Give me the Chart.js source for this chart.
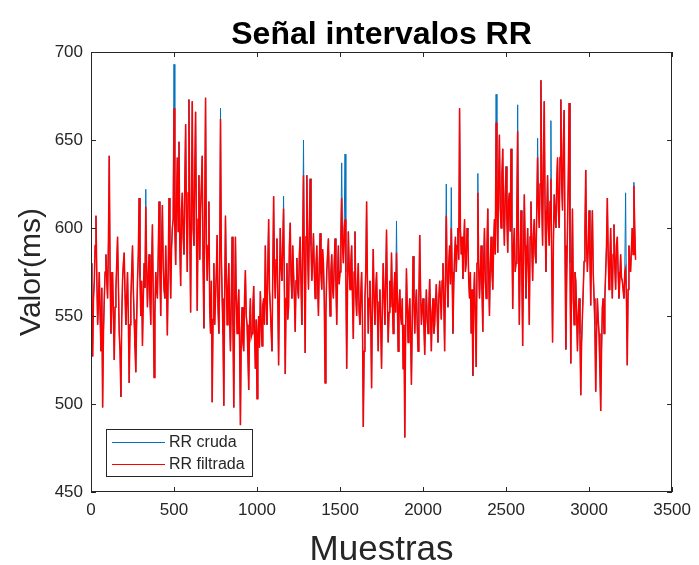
<!DOCTYPE html>
<html><head><meta charset="utf-8">
<script src="https://cdn.jsdelivr.net/npm/chart.js@4"></script>
<style>html,body{margin:0;padding:0;background:#fff}#c{display:block}</style>
</head><body>
<canvas id="c" width="699" height="565"></canvas>
<script>
// Muestras entre valores consecutivos
const PASO = 5;
// RR filtrada (ms), una lectura cada PASO muestras, desde la muestra 0 (20 lecturas = 100 muestras por fila)
const rrFiltrada = [
580,548,527,560,570,590,607,572,545,558,575,550,530,566,498,540,560,575,585,570,
560,592,641,575,540,558,575,550,525,555,565,580,595,568,540,530,504,548,570,580,
586,562,545,560,575,548,512,545,560,575,590,565,548,532,518,548,570,585,617,572,
550,570,533,560,580,566,612,580,555,572,585,560,545,578,602,560,515,552,575,565,
560,585,615,575,550,590,613,578,565,560,590,568,539,575,617,582,560,588,600,605,
668,600,579,615,640,598,649,590,567,610,620,595,585,625,659,605,575,620,673,600,
552,615,672,600,590,632,666,598,553,605,630,582,610,625,641,580,543,610,674,590,
570,590,615,555,540,570,501,548,580,545,560,575,596,555,540,575,662,585,560,540,
499,560,607,572,545,565,580,548,530,560,595,545,498,552,595,560,540,555,565,535,
488,540,555,535,530,560,576,550,545,528,508,545,560,538,540,555,567,540,520,548,
503,540,550,532,564,548,533,556,560,545,590,560,545,578,605,565,555,542,530,575,
618,575,560,582,594,560,522,565,600,578,570,590,611,565,517,560,580,548,555,590,
603,572,560,590,575,560,541,570,583,565,560,585,595,568,545,590,630,575,529,595,
630,585,565,600,628,590,570,582,597,575,560,578,590,568,550,580,597,574,565,588,
580,560,512,552,575,585,594,568,550,575,585,566,560,580,594,570,545,572,590,568,
575,595,617,590,580,600,605,575,520,565,598,578,565,580,590,560,537,575,598,562,
550,568,580,552,545,562,575,548,487,530,560,575,615,568,540,560,570,548,509,560,
588,560,545,565,575,552,530,558,565,545,520,556,580,562,545,570,599,560,535,552,
570,555,586,560,540,565,575,552,586,560,530,556,565,550,545,560,520,545,481,540,
577,555,535,552,560,540,511,548,584,560,540,556,565,545,530,560,596,565,545,555,
560,545,528,550,565,548,540,556,571,550,530,552,560,540,545,558,568,552,535,560,
570,560,548,570,580,558,530,575,607,570,555,580,590,568,600,575,540,568,585,595,
575,590,600,582,668,600,585,595,571,590,605,575,580,600,595,570,560,575,540,565,
516,560,575,548,521,580,620,578,560,575,590,565,541,580,600,570,560,590,611,575,
550,580,595,575,565,590,605,585,660,610,586,625,653,612,600,630,645,608,590,620,
635,605,586,615,620,598,645,600,554,590,600,575,580,610,655,590,545,585,610,575,
533,585,619,590,560,582,600,575,545,595,615,590,570,596,605,585,580,610,640,612,
600,625,684,615,590,640,672,610,575,605,630,600,590,615,628,580,535,590,619,608,
600,625,640,610,600,640,673,625,610,648,667,590,531,570,600,630,671,580,523,575,
611,560,545,575,570,552,530,550,560,540,505,535,550,565,581,598,633,590,575,590,
610,585,556,590,610,575,560,545,507,540,560,548,540,520,496,530,555,560,540,560,
575,590,617,585,565,580,600,575,560,585,602,578,565,590,595,575,560,570,585,572,
570,565,560,575,577,560,522,565,590,580,575,588,600,585,624,600,582
];
// RR cruda: igual a la filtrada salvo en estos picos [índice, valor ms]
const picosCruda = [
[66,622],[100,693],[156,668],[232,618],[256,650],[302,637],[306,642],[368,604],
[428,625],[434,623],[466,631],[488,676],[514,670],[538,651],[554,661],[644,620],[654,626]
];
const xTicks = [0,500,1000,1500,2000,2500,3000,3500];
const yTicks = [450,500,550,600,650,700];
const titulo = 'Señal intervalos RR';
const etiquetaX = 'Muestras';
const etiquetaY = 'Valor(ms)';
const nombres = ['RR cruda','RR filtrada'];
const colorCruda = '#0072BD';
const colorFiltrada = '#FF0000';

const rrCruda = rrFiltrada.slice();
picosCruda.forEach(([i,v]) => { rrCruda[i] = v; });
const ptsF = rrFiltrada.map((v,i) => ({x:i*PASO, y:v}));
const ptsC = rrCruda.map((v,i) => ({x:i*PASO, y:v}));

const AX = '#262626';
const FONT = 'Arial, "Liberation Sans", sans-serif';

const marco = {
  id:'marco',
  afterDatasetsDraw(chart){
    const {ctx, chartArea:a, scales:{x,y}} = chart;
    ctx.save();
    ctx.strokeStyle = AX; ctx.lineWidth = 1;
    ctx.strokeRect(Math.round(a.left)+0.5, Math.round(a.top)+0.5, Math.round(a.right-a.left)-1, Math.round(a.bottom-a.top)-1);
    const T = 5;
    ctx.beginPath();
    xTicks.forEach(v => { const px = Math.round(x.getPixelForValue(v))+0.5;
      ctx.moveTo(px, a.bottom); ctx.lineTo(px, a.bottom-T);
      ctx.moveTo(px, a.top); ctx.lineTo(px, a.top+T); });
    yTicks.forEach(v => { const py = Math.round(y.getPixelForValue(v))+0.5;
      ctx.moveTo(a.left, py); ctx.lineTo(a.left+T, py);
      ctx.moveTo(a.right, py); ctx.lineTo(a.right-T, py); });
    ctx.stroke();
    // leyenda
    const lx = 106, ly = 429, lw = 146, lh = 47;
    ctx.fillStyle = '#fff'; ctx.fillRect(lx, ly, lw, lh);
    ctx.strokeStyle = AX; ctx.strokeRect(lx+0.5, ly+0.5, lw, lh);
    const filas = [[colorCruda, nombres[0], 442],[colorFiltrada, nombres[1], 464]];
    ctx.font = '16px ' + FONT; ctx.textBaseline = 'middle'; ctx.textAlign = 'left';
    filas.forEach(([c,t,yy]) => {
      ctx.strokeStyle = c; ctx.lineWidth = 1;
      ctx.beginPath(); ctx.moveTo(112, yy+0.5); ctx.lineTo(165, yy+0.5); ctx.stroke();
      ctx.fillStyle = AX; ctx.fillText(t, 169, yy+1);
    });
    ctx.restore();
  },
  afterDraw(chart){
    const {ctx, chartArea:a} = chart;
    const cx = (a.left + a.right)/2;
    ctx.save();
    ctx.fillStyle = '#000';
    ctx.textAlign = 'center'; ctx.textBaseline = 'alphabetic';
    ctx.font = 'bold 32px ' + FONT;
    ctx.fillText(titulo, cx, 44);
    ctx.fillStyle = AX;
    ctx.font = '35px ' + FONT;
    ctx.fillText(etiquetaX, cx, 560);
    ctx.translate(40, (a.top + a.bottom)/2);
    ctx.rotate(-Math.PI/2);
    ctx.font = '30px ' + FONT;
    ctx.fillText(etiquetaY, 0, 0);
    ctx.restore();
  }
};

new Chart(document.getElementById('c'), {
  type:'line',
  data:{ datasets:[
    { label:nombres[1], data:ptsF, borderColor:colorFiltrada, borderWidth:1.5, pointRadius:0, tension:0, order:0 },
    { label:nombres[0], data:ptsC, borderColor:colorCruda, borderWidth:1, pointRadius:0, tension:0, order:1 }
  ]},
  options:{
    responsive:false, animation:false, devicePixelRatio:1,
    layout:{ padding:{ top:52, right:21, left:0, bottom:0 } },
    plugins:{ legend:{display:false}, tooltip:{enabled:false}, title:{display:false} },
    scales:{
      x:{ type:'linear', min:0, max:3500,
          afterBuildTicks: s => { s.ticks = xTicks.map(v => ({value:v})); },
          afterFit: s => { s.height = 73; },
          grid:{ display:false, drawTicks:false }, border:{ display:false },
          ticks:{ padding:8, color:AX, font:{ family:FONT, size:17 }, maxRotation:0, autoSkip:false,
                  callback: v => String(v) } },
      y:{ min:450, max:700,
          afterBuildTicks: s => { s.ticks = yTicks.map(v => ({value:v})); },
          afterFit: s => { s.width = 91; },
          grid:{ display:false, drawTicks:false }, border:{ display:false },
          ticks:{ padding:8, color:AX, font:{ family:FONT, size:17 }, autoSkip:false,
                  callback: v => String(v) } }
    }
  },
  plugins:[marco]
});
</script>
</body></html>
